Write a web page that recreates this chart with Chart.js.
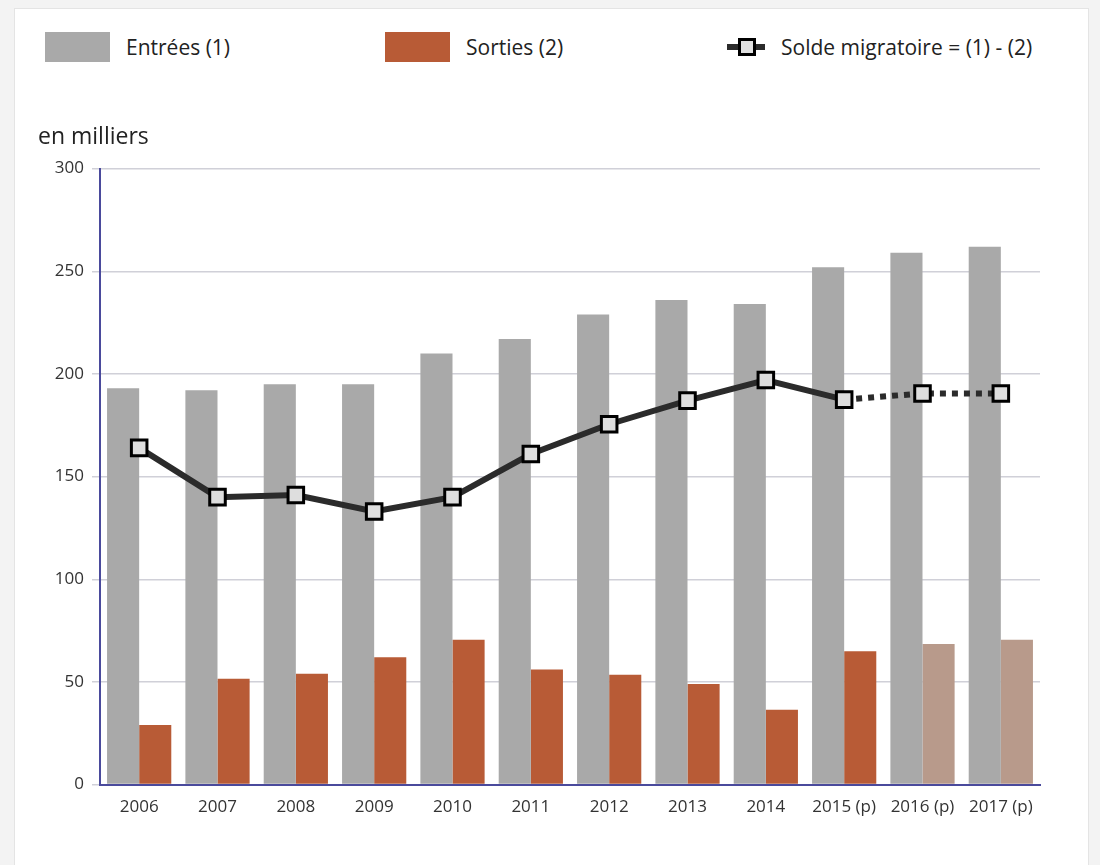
<!DOCTYPE html>
<html>
<head>
<meta charset="utf-8">
<script src="https://cdn.jsdelivr.net/npm/chart.js@4.4.1/dist/chart.umd.min.js"></script>
<style>
  html, body { margin: 0; padding: 0; background: #f3f3f3; }
  #panel {
    position: absolute; left: 14px; top: 8px; width: 1073px; height: 870px;
    background: #fff; border: 1px solid #e4e4e4;
  }
  #wrap { position: absolute; left: 0; top: 0; width: 1100px; height: 865px; }
  .legend {
    position: absolute; top: 32px; height: 30px;
    font-family: 'Open Sans', sans-serif; font-size: 21px; color: #222;
    display: flex; align-items: center;
  }
  .swatch { width: 65px; height: 30px; margin-right: 16px; }
  .lineKey { position: relative; width: 38px; height: 30px; margin-right: 16px; }
  .lineKey .bar { position: absolute; left: 0; right: 0; top: 12px; height: 6px; background: #2b2b2b; }
  .lineKey .sq { position: absolute; left: 11px; top: 6px; width: 12px; height: 12px; background: #e0e0e0; border: 3px solid #000; }
</style>
</head>
<body>
<div id="panel"></div>
<div class="legend" style="left:45px"><div class="swatch" style="background:#a9a9a9"></div>Entrées (1)</div>
<div class="legend" style="left:385px"><div class="swatch" style="background:#b85b36"></div>Sorties (2)</div>
<div class="legend" style="left:727px"><div class="lineKey"><div class="bar"></div><div class="sq"></div></div>Solde migratoire = (1) - (2)</div>
<div id="wrap"><canvas id="migChart" width="1100" height="865"></canvas></div>
<script>
// Flux migratoires, en milliers
const years = ['2006', '2007', '2008', '2009', '2010', '2011', '2012', '2013', '2014', '2015 (p)', '2016 (p)', '2017 (p)'];
const entrees = [193, 192, 195, 195, 210, 217, 229, 236, 234, 252, 259, 262];
const sorties = [29, 51.5, 54, 62, 70.5, 56, 53.5, 49, 36.5, 65, 68.5, 70.5];
const solde = [164, 140, 141, 133, 140, 161, 175.5, 187, 197, 187.5, 190.5, 190.5];
const yTicks = [0, 50, 100, 150, 200, 250, 300];

// first provisional estimate that is drawn lighter / dotted
const firstEstimate = 10;

const axisBlue = '#4a4a9c';
const sortiesColors = years.map((y, i) => i >= firstEstimate ? '#b89a8b' : '#b85b36');
const tickFont = { family: "'Open Sans', sans-serif", size: 17 };

const ctx = document.getElementById('migChart');
new Chart(ctx.getContext('2d'), {
  type: 'bar',
  data: {
    labels: years,
    datasets: [
      {
        type: 'line',
        label: 'Solde migratoire = (1) - (2)',
        data: solde,
        order: 0,
        borderColor: '#2b2b2b',
        borderWidth: 6,
        pointStyle: 'rect',
        pointRadius: 11,
        pointBackgroundColor: '#dedede',
        pointBorderColor: '#000',
        pointBorderWidth: 3,
        segment: {
          borderDash: c => c.p0DataIndex >= firstEstimate - 1 ? [6, 6] : undefined
        }
      },
      {
        label: 'Entrées (1)',
        data: entrees,
        order: 1,
        backgroundColor: '#a9a9a9',
        categoryPercentage: 0.82,
        barPercentage: 1
      },
      {
        label: 'Sorties (2)',
        data: sorties,
        order: 2,
        backgroundColor: sortiesColors,
        categoryPercentage: 0.82,
        barPercentage: 1
      }
    ]
  },
  options: {
    responsive: false,
    animation: false,
    layout: { padding: { left: 38, right: 60, top: 124, bottom: 44 } },
    plugins: {
      legend: { display: false },
      tooltip: { enabled: false },
      title: {
        display: true,
        text: 'en milliers',
        align: 'start',
        color: '#222',
        font: { family: "'Open Sans', sans-serif", size: 23, weight: 'normal' },
        padding: { top: 0, bottom: 17 }
      }
    },
    scales: {
      x: {
        grid: { display: false },
        border: { display: true, color: axisBlue, width: 2 },
        ticks: { color: '#333', padding: 4, font: tickFont }
      },
      y: {
        min: 0,
        max: 300,
        afterFit: s => { s.width = 62; },
        afterBuildTicks: s => { s.ticks = yTicks.map(v => ({ value: v })); },
        grid: { color: '#d0d0d8', lineWidth: 1.5, tickLength: 8 },
        border: { display: true, color: axisBlue, width: 2 },
        ticks: { color: '#333', padding: 8, font: tickFont }
      }
    }
  }
});
</script>
</body>
</html>
